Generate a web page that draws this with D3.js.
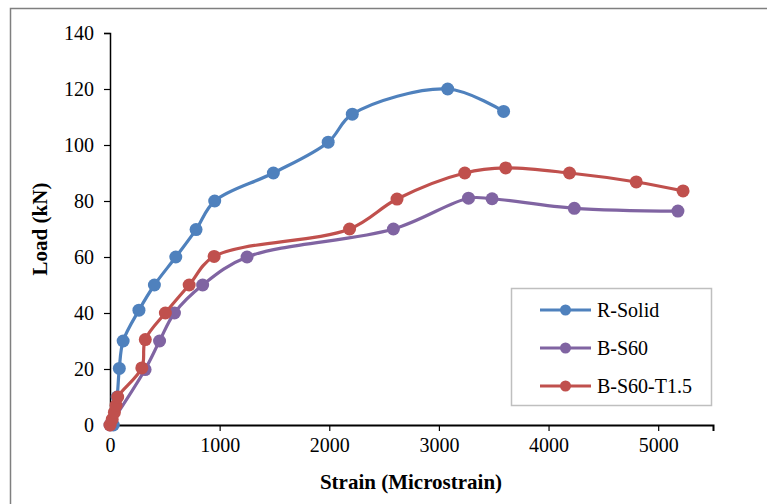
<!DOCTYPE html>
<html>
<head>
<meta charset="utf-8">
<script src="https://cdn.jsdelivr.net/npm/d3@7"></script>
<style>
  html, body { margin: 0; padding: 0; background: #fff; }
  svg { display: block; font-family: "Liberation Serif", "Times New Roman", serif; }
</style>
</head>
<body>
<svg id="chart" width="767" height="504"></svg>
<script>
// Load–strain readings for each specimen
const seriesNames = ["R-Solid", "B-S60", "B-S60-T1.5"];
const seriesColors = ["#4F81BD", "#8064A2", "#C0504D"];

const rSolidStrain = [30, 65, 85, 120, 264, 405, 600, 785, 955, 1490, 1990, 2210, 3080, 3590];
const rSolidLoad   = [0, 10, 20.2, 30, 41, 50, 60, 69.8, 80, 90, 101, 111, 120, 112];

const bS60Strain = [0, 320, 452, 588, 845, 1250, 2585, 3270, 3485, 4235, 5180];
const bS60Load   = [0, 19.8, 30, 40, 50, 60, 70, 81, 80.8, 77.4, 76.4];

const bS60T15Strain = [0, 20, 40, 55, 70, 290, 322, 505, 722, 950, 2185, 2618, 3236, 3609, 4191, 4800, 5227];
const bS60T15Load   = [0, 2, 4.5, 7, 10, 20.4, 30.5, 40, 50, 60.2, 70, 80.7, 90, 91.8, 90, 86.8, 83.6];

const xTicks = [0, 1000, 2000, 3000, 4000, 5000];
const yTicks = [0, 20, 40, 60, 80, 100, 120, 140];

const series = [
  { name: seriesNames[0], color: seriesColors[0], xs: rSolidStrain, ys: rSolidLoad },
  { name: seriesNames[1], color: seriesColors[1], xs: bS60Strain, ys: bS60Load },
  { name: seriesNames[2], color: seriesColors[2], xs: bS60T15Strain, ys: bS60T15Load }
];

const svg = d3.select("#chart");

// outer frame
svg.append("rect")
  .attr("x", 10.5).attr("y", 8.5)
  .attr("width", 780).attr("height", 520)
  .attr("fill", "none").attr("stroke", "#7f7f7f").attr("stroke-width", 1.5);

const x = d3.scaleLinear().domain([0, 5500]).range([110, 713]);
const y = d3.scaleLinear().domain([0, 140]).range([425, 33]);

const tickFont = 20;

// y axis
const yAxis = svg.append("g")
  .attr("transform", `translate(${x(0)},0)`)
  .call(d3.axisLeft(y).tickValues(yTicks).tickSize(6).tickPadding(10).tickFormat(d3.format("d")));
yAxis.select(".domain").attr("stroke", "#000").attr("stroke-width", 1.5);
yAxis.selectAll(".tick line").attr("stroke", "#000").attr("stroke-width", 1.2);
yAxis.selectAll(".tick text")
  .attr("font-family", "Liberation Serif, Times New Roman, serif")
  .attr("font-size", tickFont).attr("fill", "#000");

// x axis
const xAxis = svg.append("g")
  .attr("transform", `translate(0,${y(0)})`)
  .call(d3.axisBottom(x).tickValues(xTicks).tickSize(6).tickPadding(7).tickFormat(d3.format("d")));
xAxis.select(".domain").attr("stroke", "#000").attr("stroke-width", 2);
xAxis.selectAll(".tick line").attr("stroke", "#000").attr("stroke-width", 1.2);
xAxis.selectAll(".tick text")
  .attr("font-family", "Liberation Serif, Times New Roman, serif")
  .attr("font-size", tickFont).attr("fill", "#000");

// axis titles
svg.append("text")
  .attr("x", 411).attr("y", 489)
  .attr("text-anchor", "middle")
  .attr("font-weight", "bold").attr("font-size", 21)
  .text("Strain (Microstrain)");

svg.append("text")
  .attr("transform", "translate(47,229) rotate(-90)")
  .attr("text-anchor", "middle")
  .attr("font-weight", "bold").attr("font-size", 21)
  .text("Load (kN)");

// smoothed lines with markers
const line = d3.line()
  .x(d => x(d[0])).y(d => y(d[1]))
  .curve(d3.curveCatmullRom.alpha(0.5));

const plot = svg.append("g");
series.forEach(s => {
  const pts = s.xs.map((v, i) => [v, s.ys[i]]);
  const g = plot.append("g");
  g.append("path")
    .attr("d", line(pts))
    .attr("fill", "none")
    .attr("stroke", s.color)
    .attr("stroke-width", 3.2)
    .attr("stroke-linejoin", "round");
  g.selectAll("circle").data(pts).join("circle")
    .attr("cx", d => x(d[0])).attr("cy", d => y(d[1]))
    .attr("r", 6.5)
    .attr("fill", s.color);
});

// legend
const legend = svg.append("g");
legend.append("rect")
  .attr("x", 511.5).attr("y", 288.5)
  .attr("width", 200).attr("height", 117)
  .attr("fill", "#fff").attr("stroke", "#bfbfbf").attr("stroke-width", 1.5);
const legendY = [310, 348, 386];
series.forEach((s, i) => {
  const ly = legendY[i];
  legend.append("line")
    .attr("x1", 540).attr("x2", 591).attr("y1", ly).attr("y2", ly)
    .attr("stroke", s.color).attr("stroke-width", 3.2);
  legend.append("circle")
    .attr("cx", 565.5).attr("cy", ly).attr("r", 5.5).attr("fill", s.color);
  legend.append("text")
    .attr("x", 597).attr("y", ly + 7)
    .attr("font-size", 20).attr("fill", "#000")
    .text(s.name);
});
</script>
</body>
</html>
